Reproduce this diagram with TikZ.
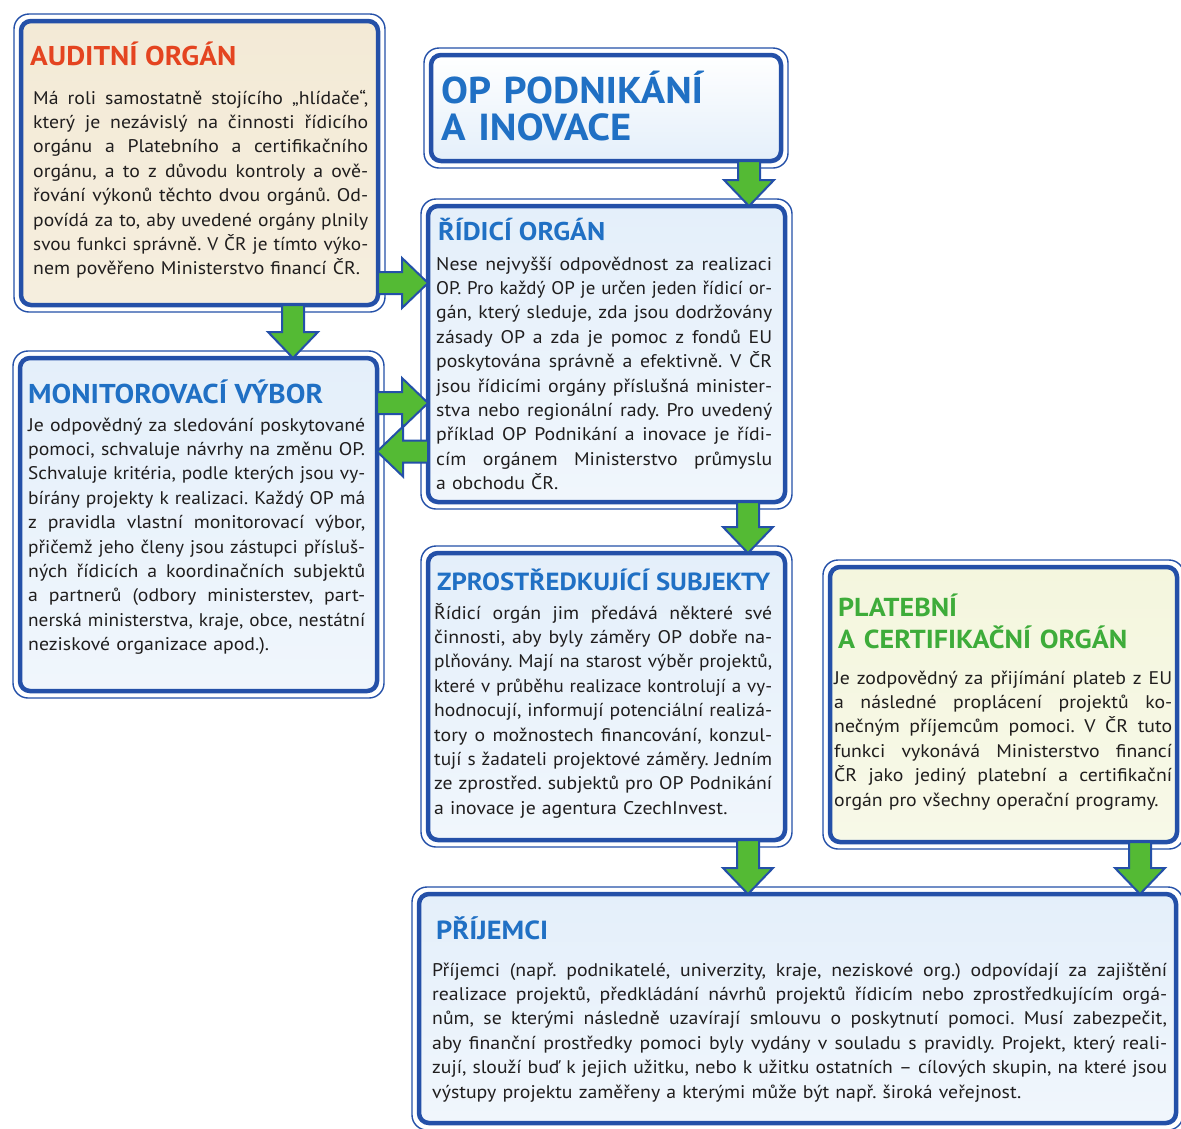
\documentclass[tikz,border=0pt]{standalone}
\usepackage{fontspec}
\setmainfont{PT Sans}[FakeStretch=1.08]
\usepackage{graphicx}
\usetikzlibrary{calc}
\definecolor{bordblue}{RGB}{36,80,168}
\definecolor{titleblue}{RGB}{32,112,196}
\definecolor{titlered}{RGB}{228,68,32}
\definecolor{titlegreen}{RGB}{62,172,58}
\definecolor{arrgreen}{RGB}{84,186,52}
\definecolor{bodytxt}{RGB}{32,30,30}
\definecolor{audfill}{RGB}{243,234,214}
\definecolor{plfill}{RGB}{244,246,222}
\definecolor{bluefill}{RGB}{228,239,250}
\frenchspacing
\newsavebox\jlbox
% justified line: stretch spaces, or squeeze if too wide
\newcommand\jl[1]{{\sbox\jlbox{#1}%
  \ifdim\wd\jlbox>\linewidth
    \resizebox{\linewidth}{\ht\jlbox}{\usebox\jlbox}%
  \else
    {\spaceskip=0.25em plus 1fil\xspaceskip=\spaceskip\makebox[\linewidth][s]{#1}}%
  \fi}\\}
% last line: natural width, squeezed only if too wide
\newcommand\lastl[1]{{\sbox\jlbox{#1}%
  \ifdim\wd\jlbox>\linewidth
    \resizebox{\linewidth}{\ht\jlbox}{\usebox\jlbox}%
  \else
    \usebox\jlbox
  \fi}}
\newcommand\garrow[2]{%
  \coordinate (gS) at (#1);
  \coordinate (gE) at (#2);
  \coordinate (gC) at ($(gE)!26pt!(gS)$);
  \draw[arr] ($(gS)!11pt!90:(gE)$) -- ($(gC)!11pt!90:(gE)$) -- ($(gC)!25pt!90:(gE)$) -- (gE)
     -- ($(gC)!25pt!-90:(gE)$) -- ($(gC)!11pt!-90:(gE)$) -- ($(gS)!11pt!-90:(gE)$) -- cycle;}
\tikzset{
  box/.style={draw=bordblue, line width=4.5pt, rounded corners=10pt, inner sep=0pt, outer sep=0pt, anchor=north west},
  bluebox/.style={box, top color=bluefill, bottom color=bluefill!55},
  outerline/.style={draw=bordblue, line width=1.4pt, rounded corners=15pt},
  ttl/.style={anchor=base west, inner sep=0pt, font=\bfseries, text=titleblue},
  body/.style={anchor=base west, inner sep=0pt, align=left, text=bodytxt, font=\fontsize{18.3}{24.4}\selectfont},
  arr/.style={fill=arrgreen, draw=bordblue, line width=2pt, line join=miter},
}
\begin{document}
\begin{tikzpicture}[x=1pt,y=-1pt]
\clip (0,0) rectangle (1181,1128);
\fill[white] (0,0) rectangle (1181,1128);
% boxes
\node[box, top color=audfill, bottom color=audfill!80, minimum width=357pt, minimum height=284pt] (aud) at (21,21) {};
\node[bluebox, top color=white, bottom color=bluefill, minimum width=350pt, minimum height=106pt] (op) at (431,55) {};
\node[bluebox, minimum width=357pt, minimum height=296pt] (ri) at (428,206) {};
\node[bluebox, minimum width=357pt, minimum height=333pt] (mon) at (20,358) {};
\node[bluebox, minimum width=357pt, minimum height=287pt] (zp) at (428,553) {};
\node[box, top color=plfill, bottom color=plfill!70, minimum width=347pt, minimum height=275pt] (pl) at (830,567) {};
\node[bluebox, minimum width=757pt, minimum height=229pt] (pr) at (419,894) {};
\foreach \n in {aud,op,ri,mon,zp,pl,pr}
  \draw[outerline] ([shift={(-7pt,7pt)}]\n.north west) rectangle ([shift={(7pt,-7pt)}]\n.south east);
% arrows
\coordinate (s1) at ([xshift=-32pt]op.south east);
\garrow{s1}{s1 |- ri.north}
\coordinate (s2) at ([xshift=93.5pt]aud.south);
\garrow{s2}{s2 |- mon.north}
\coordinate (s3) at ([yshift=-120pt]aud.east);
\garrow{s3}{s3 -| ri.west}
\coordinate (s4) at ([yshift=121.5pt]mon.east);
\garrow{s4}{s4 -| ri.west}
\coordinate (s5) at ([yshift=-97.5pt]ri.west);
\garrow{s5}{s5 -| mon.east}
\coordinate (s6) at ([xshift=-37pt]ri.south east);
\garrow{s6}{s6 |- zp.north}
\coordinate (s7) at ([xshift=-37pt]zp.south east);
\garrow{s7}{s7 |- pr.north}
\coordinate (s8) at ([xshift=-37pt]pl.south east);
\garrow{s8}{s8 |- pr.north}
% texts
\node[ttl, text=titlered] (audh) at (30,65) {\resizebox{206pt}{!}{AUDITNÍ ORGÁN}};
\node[body, text width=335pt] (audb) at (33,104) {%
\jl{Má roli samostatně stojícího „hlídače“,}
\jl{který je nezávislý na činnosti řídicího}
\jl{orgánu a Platebního a certifikačního}
\jl{orgánu, a to z důvodu kontroly a ově-}
\jl{řování výkonů těchto dvou orgánů. Od-}
\jl{povídá za to, aby uvedené orgány plnily}
\jl{svou funkci správně. V ČR je tímto výko-}
\lastl{nem pověřeno Ministerstvo financí ČR.}};

\node[ttl, text width=320pt, align=left, font=\bfseries\fontsize{40}{37}\selectfont] (oph) at (441,103)
  {\resizebox{262pt}{!}{OP PODNIKÁNÍ}\\\resizebox{190pt}{!}{A INOVACE}};

\node[ttl] (rih) at (438,240) {\resizebox{167pt}{!}{ŘÍDICÍ ORGÁN}};
\node[body, text width=336pt] (rib) at (436,270) {%
\jl{Nese nejvyšší odpovědnost za realizaci}
\jl{OP. Pro každý OP je určen jeden řídicí or-}
\jl{gán, který sleduje, zda jsou dodržovány}
\jl{zásady OP a zda je pomoc z fondů EU}
\jl{poskytována správně a efektivně. V ČR}
\jl{jsou řídicími orgány příslušná minister-}
\jl{stva nebo regionální rady. Pro uvedený}
\jl{příklad OP Podnikání a inovace je řídi-}
\jl{cím orgánem Ministerstvo průmyslu}
\lastl{a obchodu ČR.}};

\node[ttl] (monh) at (28,403) {\resizebox{295pt}{!}{MONITOROVACÍ VÝBOR}};
\node[body, text width=337pt] (monb) at (28,431) {%
\jl{Je odpovědný za sledování poskytované}
\jl{pomoci, schvaluje návrhy na změnu OP.}
\jl{Schvaluje kritéria, podle kterých jsou vy-}
\jl{bírány projekty k realizaci. Každý OP má}
\jl{z pravidla vlastní monitorovací výbor,}
\jl{přičemž jeho členy jsou zástupci přísluš-}
\jl{ných řídicích a koordinačních subjektů}
\jl{a partnerů (odbory ministerstev, part-}
\jl{nerská ministerstva, kraje, obce, nestátní}
\lastl{neziskové organizace apod.).}};

\node[ttl] (zph) at (437,590) {\resizebox{333pt}{!}{ZPROSTŘEDKUJÍCÍ SUBJEKTY}};
\node[body, text width=338pt] (zpb) at (434,619) {%
\jl{Řídicí orgán jim předává některé své}
\jl{činnosti, aby byly záměry OP dobře na-}
\jl{plňovány. Mají na starost výběr projektů,}
\jl{které v průběhu realizace kontrolují a vy-}
\jl{hodnocují, informují potenciální realizá-}
\jl{tory o možnostech financování, konzul-}
\jl{tují s žadateli projektové záměry. Jedním}
\jl{ze zprostřed. subjektů pro OP Podnikání}
\lastl{a inovace je agentura CzechInvest.}};

\node[ttl, text=titlegreen, text width=330pt, align=left, font=\bfseries\fontsize{24}{32}\selectfont] (plh) at (838,616)
  {\resizebox{119pt}{!}{PLATEBNÍ}\\\resizebox{289pt}{!}{A CERTIFIKAČNÍ ORGÁN}};
\node[body, text width=338pt] (plb) at (834,684) {%
\jl{Je zodpovědný za přijímání plateb z EU}
\jl{a následné proplácení projektů ko-}
\jl{nečným příjemcům pomoci. V ČR tuto}
\jl{funkci vykonává Ministerstvo financí}
\jl{ČR jako jediný platební a certifikační}
\lastl{orgán pro všechny operační programy.}};

\node[ttl] (prh) at (436,939) {\resizebox{112pt}{!}{PŘÍJEMCI}};
\node[body, text width=735pt] (prb) at (432,976) {%
\jl{Příjemci (např. podnikatelé, univerzity, kraje, neziskové org.) odpovídají za zajištění}
\jl{realizace projektů, předkládání návrhů projektů řídicím nebo zprostředkujícím orgá-}
\jl{nům, se kterými následně uzavírají smlouvu o poskytnutí pomoci. Musí zabezpečit,}
\jl{aby finanční prostředky pomoci byly vydány v souladu s pravidly. Projekt, který reali-}
\jl{zují, slouží buď k jejich užitku, nebo k užitku ostatních – cílových skupin, na které jsou}
\lastl{výstupy projektu zaměřeny a kterými může být např. široká veřejnost.}};
\end{tikzpicture}
\end{document}
